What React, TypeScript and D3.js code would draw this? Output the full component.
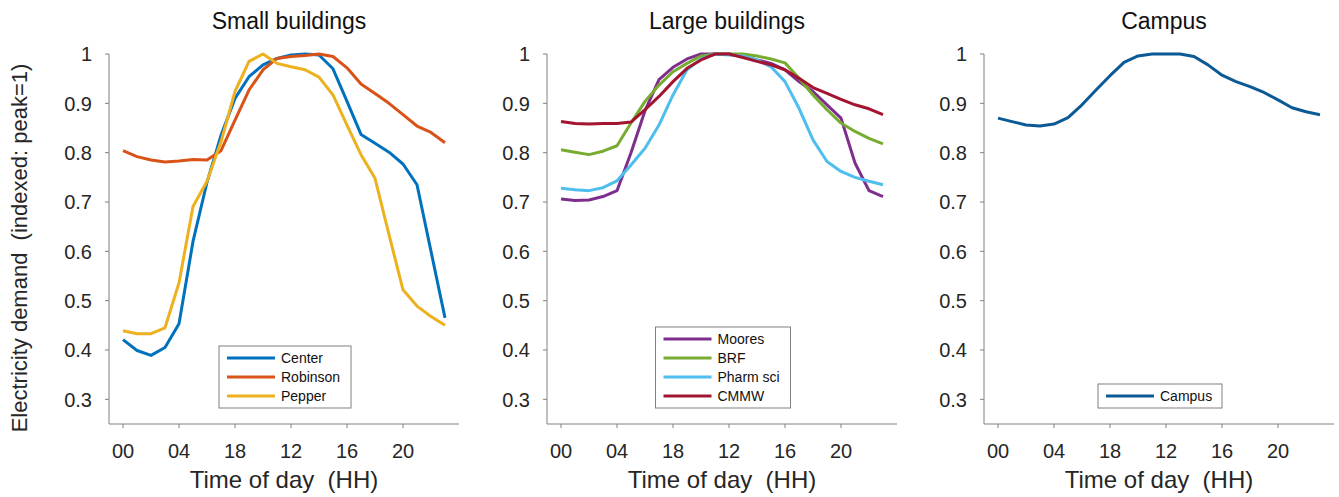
import React from 'react';
import * as d3 from 'd3';

// hours of the day, 00..23
const hours = d3.range(24);
const xTickHours = [0, 4, 8, 12, 16, 20];
const xTickLabels = ['00', '04', '18', '12', '16', '20'];
const yTicks = [0.3, 0.4, 0.5, 0.6, 0.7, 0.8, 0.9, 1];

// Small buildings
const center = [0.421, 0.399, 0.389, 0.405, 0.453, 0.62, 0.74, 0.835, 0.91, 0.954, 0.978, 0.991, 0.998, 1.0, 0.998, 0.97, 0.904, 0.837, 0.819, 0.801, 0.777, 0.735, 0.6, 0.465];
const robinson = [0.804, 0.792, 0.785, 0.781, 0.783, 0.786, 0.785, 0.804, 0.866, 0.927, 0.968, 0.991, 0.995, 0.997, 1.0, 0.995, 0.972, 0.939, 0.92, 0.9, 0.877, 0.854, 0.841, 0.82];
const pepper = [0.439, 0.433, 0.433, 0.445, 0.536, 0.691, 0.742, 0.822, 0.924, 0.985, 1.0, 0.981, 0.974, 0.968, 0.953, 0.917, 0.856, 0.796, 0.748, 0.634, 0.522, 0.489, 0.468, 0.45];

// Large buildings
const moores = [0.706, 0.703, 0.704, 0.711, 0.723, 0.8, 0.885, 0.948, 0.973, 0.99, 1.0, 1.0, 1.0, 0.996, 0.988, 0.981, 0.968, 0.944, 0.924, 0.897, 0.87, 0.779, 0.723, 0.711];
const brf = [0.806, 0.801, 0.796, 0.803, 0.814, 0.86, 0.904, 0.937, 0.964, 0.981, 0.996, 1.0, 1.0, 1.0, 0.996, 0.99, 0.982, 0.951, 0.917, 0.887, 0.86, 0.843, 0.829, 0.818];
const pharmSci = [0.728, 0.725, 0.723, 0.729, 0.743, 0.775, 0.809, 0.856, 0.917, 0.968, 0.99, 1.0, 0.998, 0.996, 0.988, 0.974, 0.944, 0.89, 0.826, 0.782, 0.762, 0.75, 0.742, 0.735];
const cmmw = [0.863, 0.859, 0.858, 0.859, 0.859, 0.862, 0.887, 0.914, 0.944, 0.971, 0.988, 1.0, 1.0, 0.993, 0.985, 0.978, 0.968, 0.951, 0.932, 0.92, 0.908, 0.897, 0.889, 0.877];

// Campus
const campus = [0.87, 0.863, 0.856, 0.854, 0.858, 0.871, 0.897, 0.927, 0.956, 0.983, 0.996, 1.0, 1.0, 1.0, 0.995, 0.978, 0.957, 0.944, 0.934, 0.922, 0.907, 0.891, 0.883, 0.877];

interface Series { name: string; values: number[]; color: string }

const panels: { title: string; left: number; legendW: number; series: Series[] }[] = [
  {
    title: 'Small buildings', left: 109, legendW: 132,
    series: [
      { name: 'Center', values: center, color: '#0072BD' },
      { name: 'Robinson', values: robinson, color: '#D95319' },
      { name: 'Pepper', values: pepper, color: '#EDB120' },
    ],
  },
  {
    title: 'Large buildings', left: 547, legendW: 135,
    series: [
      { name: 'Moores', values: moores, color: '#7E2F8E' },
      { name: 'BRF', values: brf, color: '#77AC30' },
      { name: 'Pharm sci', values: pharmSci, color: '#4DBEEE' },
      { name: 'CMMW', values: cmmw, color: '#A2142F' },
    ],
  },
  {
    title: 'Campus', left: 984, legendW: 124,
    series: [{ name: 'Campus', values: campus, color: '#0B5A96' }],
  },
];

const W = 1339;
const H = 497;
const plotW = 350;
const top = 54;
const bottom = 424;
const font = '"Liberation Sans", Arial, Helvetica, sans-serif';
const textColor = '#262626';
const axisColor = '#808080';

const y = d3.scaleLinear().domain([0.25, 1]).range([bottom, top]);

function Panel({ p }: { p: typeof panels[number] }) {
  const x = d3.scaleLinear().domain([-1, 24]).range([p.left, p.left + plotW]);
  const line = d3.line<number>().x((_, i) => x(hours[i])).y(d => y(d));
  const cx = (p.left + p.left + plotW) / 2;
  const rowH = 19;
  const legH = p.series.length * rowH + 5;
  const legX = cx - p.legendW / 2 + 1;
  const legY = bottom - 16 - legH;
  return (
    <g>
      <text x={cx + 5} y={29} textAnchor="middle" fontSize={23} fill="#111" fontFamily={font}>{p.title}</text>
      {/* axes */}
      <line x1={p.left} x2={p.left} y1={top} y2={bottom} stroke={axisColor} strokeWidth={1} />
      <line x1={p.left} x2={p.left + plotW} y1={bottom} y2={bottom} stroke={axisColor} strokeWidth={1} />
      {yTicks.map(t => (
        <g key={t}>
          <line x1={p.left - 4} x2={p.left} y1={y(t)} y2={y(t)} stroke={axisColor} />
          <text x={p.left - 17} y={y(t)} dy="0.36em" textAnchor="end" fontSize={20} fill={textColor} fontFamily={font}>
            {d3.format('~g')(t)}
          </text>
        </g>
      ))}
      {xTickHours.map((h, i) => (
        <g key={h}>
          <line x1={x(h)} x2={x(h)} y1={bottom} y2={bottom + 4} stroke={axisColor} />
          <text x={x(h)} y={458} textAnchor="middle" fontSize={20} fill={textColor} fontFamily={font}>
            {xTickLabels[i]}
          </text>
        </g>
      ))}
      <text x={cx} y={488} textAnchor="middle" fontSize={24} fill={textColor} fontFamily={font} style={{ whiteSpace: 'pre' }}>
        {'Time of day  (HH)'}
      </text>
      {/* series */}
      {p.series.map(s => (
        <path key={s.name} d={line(s.values) || ''} fill="none" stroke={s.color} strokeWidth={3} strokeLinejoin="round" />
      ))}
      {/* legend */}
      <rect x={legX} y={legY} width={p.legendW} height={legH} fill="#fff" stroke={axisColor} strokeWidth={1} />
      {p.series.map((s, i) => {
        const ly = legY + 12 + i * rowH;
        return (
          <g key={s.name}>
            <line x1={legX + 8} x2={legX + 56} y1={ly} y2={ly} stroke={s.color} strokeWidth={3} />
            <text x={legX + 62} y={ly} dy="0.36em" fontSize={14} fill="#111" fontFamily={font}>{s.name}</text>
          </g>
        );
      })}
    </g>
  );
}

export default function App() {
  return (
    <svg width={W} height={H} style={{ position: 'absolute', left: 0, top: 0, background: '#fff' }}>
      <rect width={W} height={H} fill="#fff" />
      <text
        transform={`translate(27, 248) rotate(-90)`}
        textAnchor="middle"
        fontSize={22}
        fill={textColor}
        fontFamily={font}
        style={{ whiteSpace: 'pre' }}
      >
        {'Electricity demand  (indexed: peak=1)'}
      </text>
      {panels.map(p => <Panel key={p.title} p={p} />)}
    </svg>
  );
}
